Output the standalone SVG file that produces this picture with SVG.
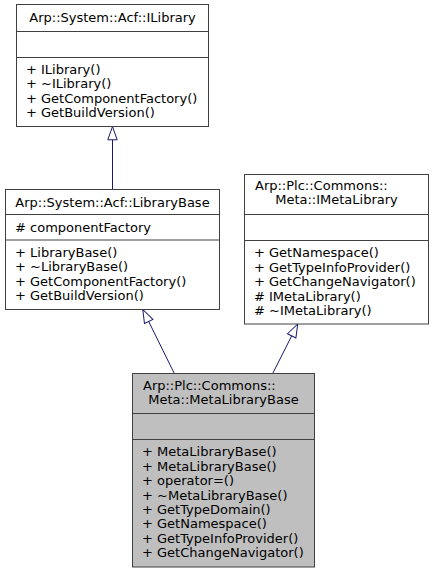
<svg xmlns="http://www.w3.org/2000/svg" width="432" height="573" viewBox="0 0 432 573">
<style>
  .box { fill: #ffffff; stroke: #404040; stroke-width: 1; }
  .cur { fill: #bfbfbf; stroke: #404040; stroke-width: 1; }
  .sep { stroke: #404040; stroke-width: 1; fill: none; }
  text { font-family: "DejaVu Sans", "Noto Sans", sans-serif; font-size: 13px; fill: #000000; }
  .c { text-anchor: middle; }
  .s { text-anchor: start; }
  .edge { stroke: #191970; stroke-width: 1; fill: none; marker-end: url(#hollow); }
</style>
<defs>
  <marker id="hollow" markerUnits="userSpaceOnUse" viewBox="-1 -1 15.5 11.5" markerWidth="15.5" markerHeight="11.5" refX="13.3" refY="4.7" orient="auto" overflow="visible">
    <path d="M0,0 L13.3,4.7 L0,9.4 Z" fill="#ffffff" stroke="#191970" stroke-width="1"/>
  </marker>
</defs>
<rect width="432" height="573" fill="#ffffff"/>

<g id="connectors">
  <path class="edge" d="M112.5,189.5 L112.5,126.5"/>
  <path class="edge" d="M174.3,373.5 L142.8,309.5"/>
  <path class="edge" d="M272.7,373.5 L297.7,324"/>
</g>

<g id="ILibrary">
  <rect class="box" x="16.5" y="4.5" width="192" height="122"/>
  <text class="c" x="112.5" y="22">Arp::System::Acf::ILibrary</text>
  <line class="sep" x1="16.5" y1="31.5" x2="208.5" y2="31.5"/>
  <line class="sep" x1="16.5" y1="57.5" x2="208.5" y2="57.5"/>
  <text class="s" x="26" y="74">+ ILibrary()</text>
  <text class="s" x="26" y="88.4">+ ~ILibrary()</text>
  <text class="s" x="26" y="102.8">+ GetComponentFactory()</text>
  <text class="s" x="26" y="117.2">+ GetBuildVersion()</text>
</g>

<g id="LibraryBase">
  <rect class="box" x="5.5" y="189.5" width="214" height="120"/>
  <text class="c" x="112.5" y="207">Arp::System::Acf::LibraryBase</text>
  <line class="sep" x1="5.5" y1="214.5" x2="219.5" y2="214.5"/>
  <text class="s" x="15" y="232"># componentFactory</text>
  <line class="sep" x1="5.5" y1="240" x2="219.5" y2="240"/>
  <text class="s" x="15" y="256.5">+ LibraryBase()</text>
  <text class="s" x="15" y="271">+ ~LibraryBase()</text>
  <text class="s" x="15" y="285.5">+ GetComponentFactory()</text>
  <text class="s" x="15" y="300">+ GetBuildVersion()</text>
</g>

<g id="IMetaLibrary">
  <rect class="box" x="244.5" y="174.5" width="184" height="149.5"/>
  <text class="s" x="255" y="189.5">Arp::Plc::Commons::</text>
  <text class="c" x="336.5" y="204">Meta::IMetaLibrary</text>
  <line class="sep" x1="244.5" y1="214.5" x2="428.5" y2="214.5"/>
  <line class="sep" x1="244.5" y1="240.5" x2="428.5" y2="240.5"/>
  <text class="s" x="254" y="257.3">+ GetNamespace()</text>
  <text class="s" x="254" y="271.7">+ GetTypeInfoProvider()</text>
  <text class="s" x="254" y="286.1">+ GetChangeNavigator()</text>
  <text class="s" x="254" y="300.5"># IMetaLibrary()</text>
  <text class="s" x="254" y="314.9"># ~IMetaLibrary()</text>
</g>

<g id="MetaLibraryBase">
  <rect class="cur" x="132.5" y="373.5" width="182" height="193.5"/>
  <text class="s" x="143" y="389.5">Arp::Plc::Commons::</text>
  <text class="c" x="223.5" y="404">Meta::MetaLibraryBase</text>
  <line class="sep" x1="132.5" y1="413.5" x2="314.5" y2="413.5"/>
  <line class="sep" x1="132.5" y1="439.5" x2="314.5" y2="439.5"/>
  <text class="s" x="142" y="456.3">+ MetaLibraryBase()</text>
  <text class="s" x="142" y="470.7">+ MetaLibraryBase()</text>
  <text class="s" x="142" y="485.1">+ operator=()</text>
  <text class="s" x="142" y="499.5">+ ~MetaLibraryBase()</text>
  <text class="s" x="142" y="513.9">+ GetTypeDomain()</text>
  <text class="s" x="142" y="528.3">+ GetNamespace()</text>
  <text class="s" x="142" y="542.7">+ GetTypeInfoProvider()</text>
  <text class="s" x="142" y="557.1">+ GetChangeNavigator()</text>
</g>
</svg>
